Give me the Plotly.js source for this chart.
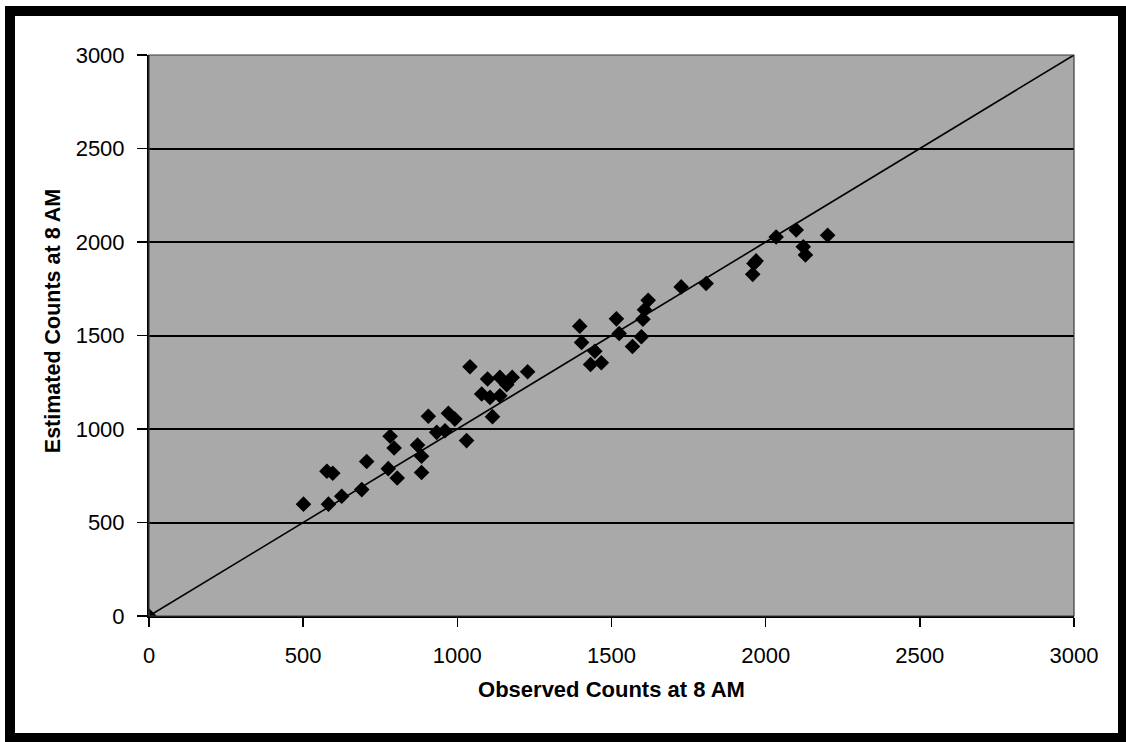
<!DOCTYPE html>
<html>
<head>
<meta charset="utf-8">
<script src="https://cdn.plot.ly/plotly-3.0.1.min.js"></script>
<style>
  html, body { margin: 0; padding: 0; background: #ffffff; }
  #frame {
    position: absolute; left: 5px; top: 6px; width: 1121px; height: 736px;
    box-sizing: border-box; background: #ffffff;
    border-style: solid; border-color: #000000;
    border-width: 10px 8px 9px 10px;
  }
  #chart { position: absolute; left: 0; top: 0; width: 1126px; height: 742px; }
</style>
</head>
<body>
<div id="frame"></div>
<div id="chart"></div>
<script>
// Observed (x) and estimated (y) counts at 8 AM
const observed = [0, 501, 582, 625, 690, 577, 596, 706, 776, 805, 782, 795, 871, 884, 884,
  906, 933, 960, 971, 992, 1030, 1041, 1079, 1098, 1106, 1114, 1138, 1138, 1160, 1178,
  1228, 1397, 1403, 1446, 1432, 1467, 1516, 1525, 1568, 1597, 1602, 1607, 1619, 1726,
  1807, 1958, 1962, 1969, 2034, 2099, 2122, 2129, 2201];
const estimated = [0, 598, 598, 640, 676, 774, 763, 826, 788, 738, 961, 898, 914, 854, 767,
  1068, 982, 991, 1084, 1053, 938, 1333, 1187, 1267, 1169, 1066, 1178, 1276, 1237, 1276,
  1306, 1550, 1463, 1416, 1345, 1354, 1589, 1511, 1441, 1493, 1587, 1638, 1688, 1760,
  1778, 1827, 1885, 1899, 2027, 2064, 1975, 1931, 2036];
// 1:1 reference line
const refX = [0, 3000];
const refY = [0, 3000];
const tickVals = [0, 500, 1000, 1500, 2000, 2500, 3000];
const xTitle = 'Observed Counts at 8 AM';
const yTitle = 'Estimated Counts at 8 AM';

const font = "Liberation Sans, Arial, sans-serif";

const traces = [
  { x: refX, y: refY, mode: 'lines', type: 'scatter',
    line: { color: '#000000', width: 1.6 }, hoverinfo: 'skip', showlegend: false },
  { x: observed, y: estimated, mode: 'markers', type: 'scatter',
    marker: { symbol: 'diamond', size: 12, color: '#000000' }, showlegend: false }
];

const layout = {
  width: 1126, height: 742,
  margin: { l: 149, r: 52, t: 55, b: 126 },
  paper_bgcolor: 'rgba(0,0,0,0)',
  plot_bgcolor: '#a9a9a9',
  showlegend: false,
  font: { family: font, color: '#000000', size: 22 },
  xaxis: {
    range: [0, 3000], tickvals: tickVals, ticktext: tickVals.map(String),
    showgrid: false, zeroline: false,
    showline: true, linecolor: '#000000', linewidth: 2,
    ticks: 'outside', ticklen: 9, tickwidth: 1.5, tickcolor: '#000000',
    ticklabelstandoff: 10,
    tickfont: { family: font, size: 22, color: '#000000' },
    title: { text: xTitle, standoff: 14,
      font: { family: font, size: 22, color: '#000000', weight: 'bold' } }
  },
  yaxis: {
    range: [0, 3000], tickvals: tickVals, ticktext: tickVals.map(String),
    showgrid: true, gridcolor: '#000000', gridwidth: 2, zeroline: false,
    showline: true, linecolor: '#000000', linewidth: 2,
    ticks: 'outside', ticklen: 10, tickwidth: 1.5, tickcolor: '#000000',
    ticklabelstandoff: 8,
    tickfont: { family: font, size: 22, color: '#000000' }
  },
  annotations: [
    { text: '<b>' + yTitle + '</b>', xref: 'paper', yref: 'paper',
      x: -0.103, y: 0.525, xanchor: 'center', yanchor: 'middle', textangle: -90,
      showarrow: false, font: { family: font, size: 21.5, color: '#000000' } }
  ],
  shapes: [
    { type: 'rect', xref: 'paper', yref: 'paper', x0: 0, x1: 1, y0: 0, y1: 1,
      line: { color: '#3a3a3a', width: 1.2 }, fillcolor: 'rgba(0,0,0,0)', layer: 'above' }
  ]
};

Plotly.newPlot('chart', traces, layout, { displayModeBar: false, staticPlot: true });
</script>
</body>
</html>
